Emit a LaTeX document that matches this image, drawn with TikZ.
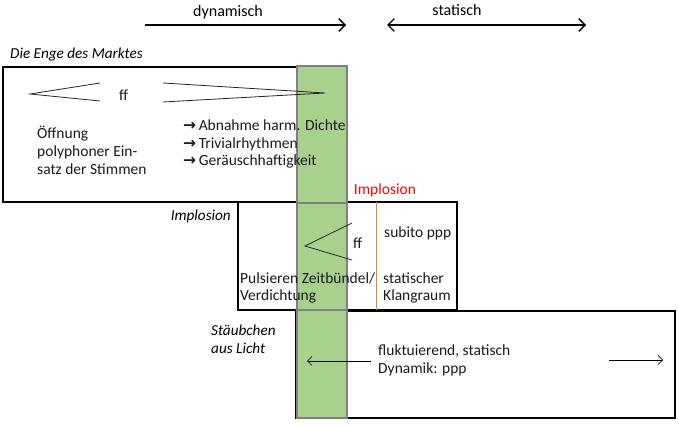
\documentclass[tikz,border=0pt]{standalone}
\usepackage{fontspec}
\setmainfont{Carlito}
\newfontfamily\symfont{DejaVu Sans}
\usetikzlibrary{arrows.meta}
\definecolor{czeit}{HTML}{A9D18E}
\definecolor{cgrey}{HTML}{808080}
\definecolor{cimpl}{HTML}{FF0000}
\definecolor{corange}{HTML}{ED7D31}
\definecolor{ctext}{HTML}{1A1A1A}
\tikzset{
  feld/.style={draw=black, line width=1.6pt, fill=white},
  zeit/.style={fill=czeit, draw=cgrey, line width=1.2pt},
  txt/.style={anchor=west, inner sep=0pt, align=left, text=ctext, font=\fontsize{15.5}{17.8}\selectfont},
  lbl/.style={inner sep=0pt, font=\fontsize{16}{18}\selectfont},
  ttl/.style={anchor=west, inner sep=0pt, align=left, font=\fontsize{15.2}{17.8}\selectfont\itshape},
  hairpin/.style={line width=0.8pt, draw=black!85},
  pre/.style={-{Straight Barb[length=2.2mm]}, line width=1.4pt},
  thinpre/.style={-{Straight Barb[length=1.6mm]}, line width=0.6pt},
}
\newcommand{\pfeil}{{\symfont\bfseries\char"2192}\,}

\begin{document}
\begin{tikzpicture}[x=1pt,y=-1pt]
\useasboundingbox (0,0) rectangle (679,427);
% top: dynamisch / statisch
\coordinate (dynL) at (145,25);
\coordinate (dynR) at (346,25);
\coordinate (staL) at (387,25);
\coordinate (staR) at (586,25);
\draw[pre] (dynL) -- (dynR);
\draw[pre, {Straight Barb[length=2.2mm]}-{Straight Barb[length=2.2mm]}] (staL) -- (staR);
\node[lbl] (dyn) at (228,12) {dynamisch};
\node[lbl] (sta) at (457,10) {statisch};
% the three fields
\draw[feld] (3,67) rectangle (297,202);
\draw[feld] (238,202) rectangle (457,310);
\draw[feld] (296,311) rectangle (675,418);
% Zeitbuendel
\draw[zeit] (297,66) rectangle (347,203);
\draw[zeit] (297,203) rectangle (347,310);
\draw[zeit] (297,310) rectangle (347,418);
\draw[corange, line width=1pt] (376,202) -- (376,310);
% (a) Die Enge des Marktes
\node[ttl] (enge) at (10,55) {Die Enge des Marktes};
\draw[hairpin] (100,83) -- (30,94) -- (100,101);
\node[txt] (ff1) at (119,95) {ff};
\draw[hairpin] (163,83) -- (325,93) -- (163,102);
\node[txt] (oeff) at (37,150.5) {Öffnung\\polyphoner Ein-\\satz der Stimmen};
\node[txt] (folge) at (183,144) {\pfeil Abnahme harm. Dichte\\\pfeil Trivialrhythmen\\\pfeil Geräuschhaftigkeit};
% (b) Implosion
\node[txt, anchor=center, text=cimpl] (impl) at (385,190) {Implosion};
\node[ttl, anchor=east] (implosion) at (231,216) {Implosion};
\draw[hairpin] (352,223) -- (305,246) -- (352,260);
\node[txt] (ff2) at (353,243) {ff};
\node[txt] (subito) at (384,233) {subito ppp};
\node[txt] (puls) at (240,288) {Pulsieren Zeitbündel/\\Verdichtung};
\node[txt] (klang) at (383,288) {statischer\\Klangraum};
% (c) Staeubchen aus Licht
\node[ttl] (staub) at (211,339) {Stäubchen\\aus Licht};
\node[txt] (fluk) at (378,360) {fluktuierend, statisch\\Dynamik: ppp};
\coordinate (linksA) at (371,361);
\coordinate (linksB) at (307,361);
\coordinate (rechtsA) at (609,360);
\coordinate (rechtsB) at (663,360);
\draw[thinpre] (linksA) -- (linksB);
\draw[thinpre] (rechtsA) -- (rechtsB);
\end{tikzpicture}
\end{document}
